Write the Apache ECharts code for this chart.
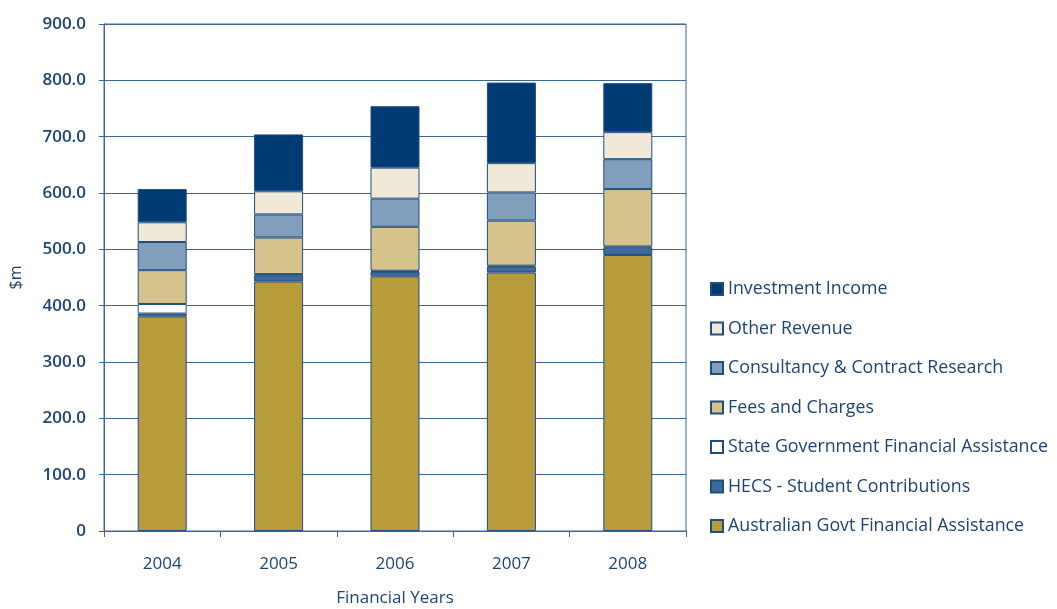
<!DOCTYPE html>
<html>
<head>
<meta charset="utf-8">
<script src="https://cdn.jsdelivr.net/npm/echarts@6/dist/echarts.min.js"></script>
<style>html,body{margin:0;padding:0;background:#fff;}#c{width:1057px;height:609px;}</style>
</head>
<body>
<div id="c"></div>
<script>
const years = ['2004', '2005', '2006', '2007', '2008'];
const ausGovt = [381, 443, 452, 459, 490];
const hecs = [5, 11, 8, 10, 13];
const stateGovt = [17, 2, 2, 2, 2];
const fees = [60, 65, 78, 80, 102];
const consultancy = [50, 41, 50, 50, 53];
const otherRevenue = [35, 41, 55, 52, 48];
const investment = [59, 101, 109, 143, 87];
const yTicks = [0, 100, 200, 300, 400, 500, 600, 700, 800, 900];

const names = ['Australian Govt Financial Assistance', 'HECS - Student Contributions', 'State Government Financial Assistance', 'Fees and Charges', 'Consultancy & Contract Research', 'Other Revenue', 'Investment Income'];
const dataSets = [ausGovt, hecs, stateGovt, fees, consultancy, otherRevenue, investment];
const colors = ['#b89b3b', '#40699a', '#ffffff', '#d5c38b', '#819fbd', '#f0e9d8', '#003b73'];

const textColor = '#1d4476';
const lineColor = '#3d6595';

const chart = echarts.init(document.getElementById('c'));
chart.setOption({
  animation: false,
  grid: { left: 104, right: 371, top: 24, bottom: 78, outerBoundsMode: 'none', containLabel: false, show: true, borderColor: lineColor, borderWidth: 1 },
  legend: {
    orient: 'vertical',
    left: 705,
    top: 274,
    itemWidth: 12,
    itemHeight: 12,
    itemGap: 19.5,
    icon: 'rect',
    data: names.slice().reverse(),
    textStyle: { color: textColor, fontSize: 17.8, fontFamily: 'Open Sans', lineHeight: 20 }
  },
  xAxis: {
    type: 'category',
    data: years,
    name: 'Financial Years',
    nameLocation: 'middle',
    nameGap: 59,
    nameTextStyle: { color: textColor, fontSize: 17, fontFamily: 'Open Sans' },
    axisLine: { lineStyle: { color: lineColor, width: 1 } },
    axisTick: { show: true, length: 6, lineStyle: { color: lineColor } },
    axisLabel: { color: textColor, fontSize: 17, fontFamily: 'Open Sans', margin: 25 }
  },
  yAxis: {
    type: 'value',
    min: yTicks[0],
    max: yTicks[yTicks.length - 1],
    interval: 100,
    name: '$m',
    nameLocation: 'middle',
    nameGap: 80,
    nameRotate: 90,
    nameTextStyle: { color: textColor, fontSize: 16, fontFamily: 'Open Sans' },
    axisLine: { show: true, lineStyle: { color: lineColor, width: 1 } },
    axisTick: { show: true, length: 5, lineStyle: { color: lineColor } },
    splitLine: { show: true, lineStyle: { color: lineColor, width: 1 } },
    axisLabel: {
      color: textColor, fontSize: 17, fontFamily: 'Open Sans', fontWeight: 600, margin: 18,
      formatter: v => v === 0 ? '0' : v.toFixed(1)
    }
  },
  series: names.map((n, i) => ({
    name: n,
    type: 'bar',
    stack: 'total',
    barWidth: 49,
    data: dataSets[i],
    itemStyle: { color: colors[i], borderColor: '#1f4e80', borderWidth: 1 }
  }))
});
</script>
</body>
</html>
